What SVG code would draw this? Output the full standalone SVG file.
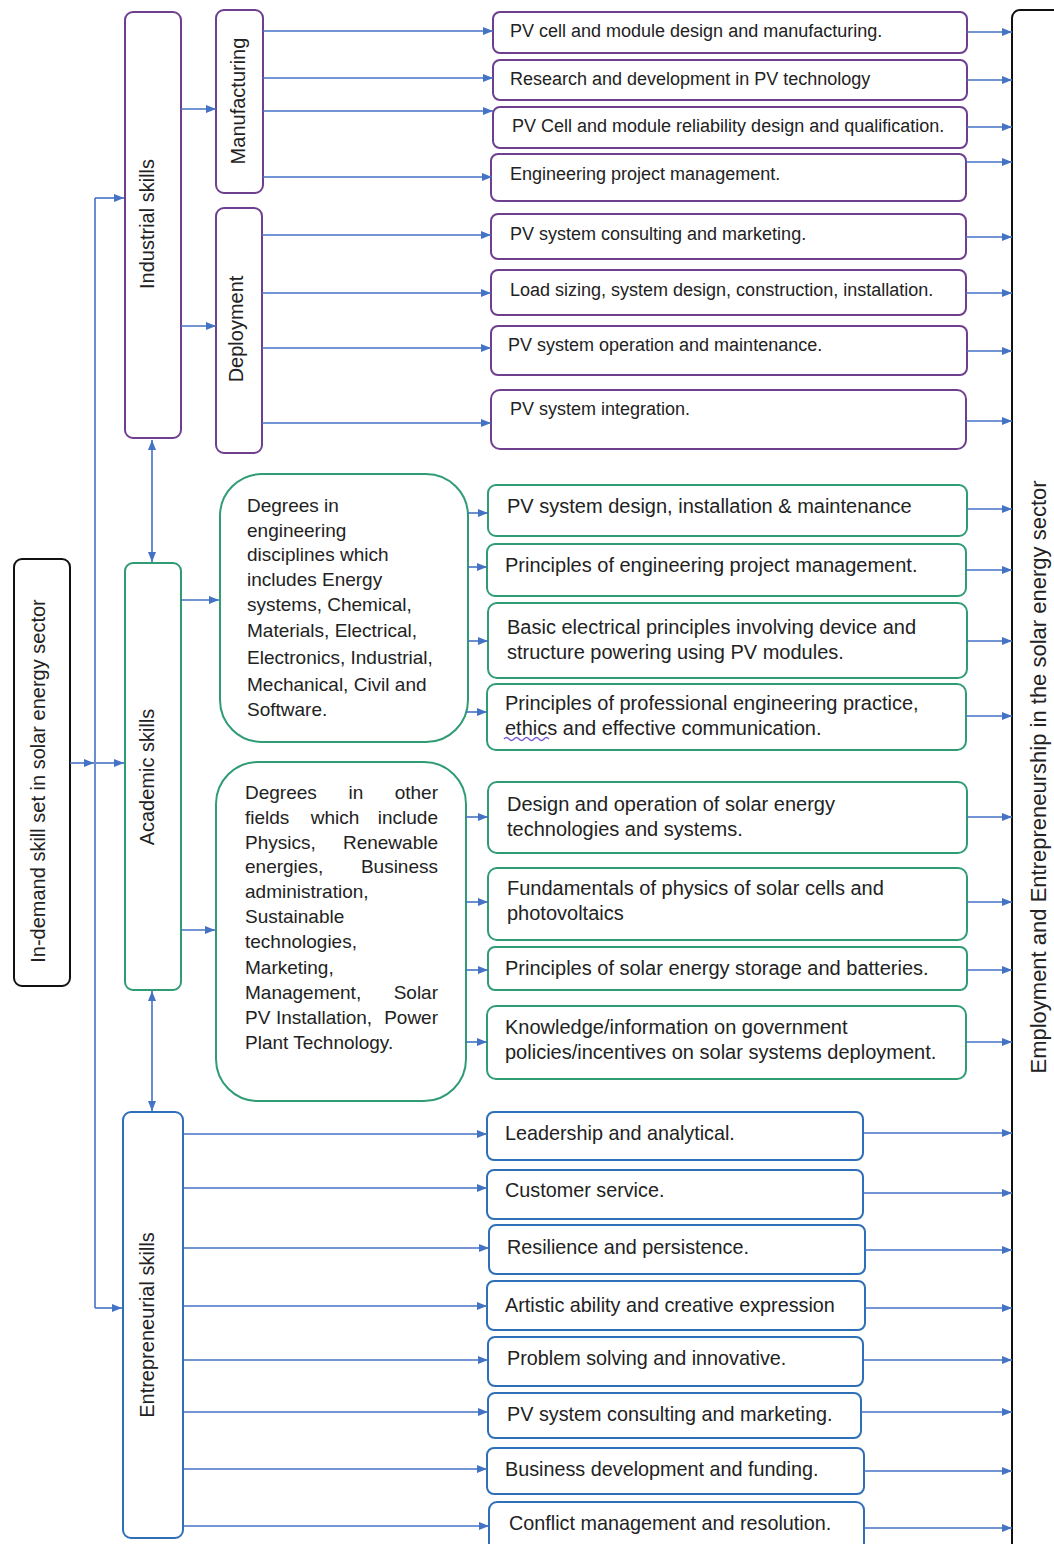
<svg xmlns="http://www.w3.org/2000/svg" width="1054" height="1544" viewBox="0 0 1054 1544">
<style>
text{font-family:"Liberation Sans",Arial,sans-serif;fill:#222}
.t{font-size:18px}
.tg{font-size:20px}
.tb{font-size:19.8px}
.big{font-size:19px}
.rot{font-size:20px;text-anchor:middle;dominant-baseline:central}
.pur{fill:#fff;stroke:#6e3f8e;stroke-width:2}
.grn{fill:#fff;stroke:#2f9c74;stroke-width:2}
.blu{fill:#fff;stroke:#2e6fb8;stroke-width:2}
.blk{fill:#fff;stroke:#111;stroke-width:2}
.c path{fill:none;stroke:#4472c4;stroke-width:1.6}
.a{marker-end:url(#ah)}
.d{marker-start:url(#ah);marker-end:url(#ah)}
</style>
<defs>
<marker id="ah" viewBox="0 0 10 10" refX="10" refY="5" markerWidth="10" markerHeight="10" markerUnits="userSpaceOnUse" orient="auto-start-reverse">
<path d="M0,1 L10,5 L0,9 z" fill="#4472c4"/>
</marker>
</defs>
<rect width="1054" height="1544" fill="#fff"/>

<g id="employment">
<rect class="blk" x="1012" y="10" width="90" height="1600" rx="8"/>
<text class="rot" style="font-size:22px" transform="translate(1038,777) rotate(-90)">Employment and Entrepreneurship in the solar energy sector</text>
</g>

<g id="indemand">
<rect class="blk" x="14" y="559" width="56" height="427" rx="8"/>
<text class="rot" transform="translate(38,781) rotate(-90)">In-demand skill set in solar energy sector</text>
</g>

<g id="industrial">
<rect class="pur" x="125" y="12" width="56" height="426" rx="8"/>
<text class="rot" transform="translate(147,224) rotate(-90)">Industrial skills</text>
</g>
<g id="academic">
<rect class="grn" x="125" y="563" width="56" height="427" rx="8"/>
<text class="rot" transform="translate(147,777) rotate(-90)">Academic skills</text>
</g>
<g id="entrepreneurial">
<rect class="blu" x="123" y="1112" width="60" height="426" rx="8"/>
<text class="rot" transform="translate(147,1325) rotate(-90)">Entrepreneurial skills</text>
</g>

<g id="manufacturing">
<rect class="pur" x="216" y="10" width="47" height="183" rx="8"/>
<text class="rot" transform="translate(238,101) rotate(-90)">Manufacturing</text>
</g>
<g id="deployment">
<rect class="pur" x="216" y="208" width="46" height="245" rx="8"/>
<text class="rot" transform="translate(236,329) rotate(-90)">Deployment</text>
</g>

<g id="p1"><rect class="pur" x="493" y="12" width="474" height="41" rx="7"/><text class="t" x="510" y="37">PV cell and module design and manufacturing.</text></g>
<g id="p2"><rect class="pur" x="493" y="60" width="474" height="40" rx="7"/><text class="t" x="510" y="85">Research and development in PV technology</text></g>
<g id="p3"><rect class="pur" x="493" y="107" width="474" height="41" rx="7"/><text class="t" x="512" y="132">PV Cell and module reliability design and qualification.</text></g>
<g id="p4"><rect class="pur" x="491" y="154" width="475" height="47" rx="7"/><text class="t" x="510" y="180">Engineering project management.</text></g>
<g id="p5"><rect class="pur" x="491" y="214" width="475" height="45" rx="7"/><text class="t" x="510" y="240">PV system consulting and marketing.</text></g>
<g id="p6"><rect class="pur" x="491" y="270" width="475" height="45" rx="7"/><text class="t" x="510" y="296">Load sizing, system design, construction, installation.</text></g>
<g id="p7"><rect class="pur" x="491" y="326" width="476" height="49" rx="7"/><text class="t" x="508" y="351">PV system operation and maintenance.</text></g>
<g id="p8"><rect class="pur" x="491" y="390" width="475" height="59" rx="9"/><text class="t" x="510" y="415">PV system integration.</text></g>

<g id="deg1">
<rect class="grn" x="220" y="474" width="248" height="268" rx="42"/>
<text class="big">
<tspan x="247" y="512">Degrees in</tspan>
<tspan x="247" y="537">engineering</tspan>
<tspan x="247" y="561">disciplines which</tspan>
<tspan x="247" y="586">includes Energy</tspan>
<tspan x="247" y="611">systems, Chemical,</tspan>
<tspan x="247" y="637">Materials, Electrical,</tspan>
<tspan x="247" y="664">Electronics, Industrial,</tspan>
<tspan x="247" y="691">Mechanical, Civil and</tspan>
<tspan x="247" y="716">Software.</tspan>
</text>
</g>

<g id="deg2">
<rect class="grn" x="216" y="762" width="250" height="339" rx="42"/>
<g class="big">
<text x="245" y="799">Degrees</text><text x="356" y="799" text-anchor="middle">in</text><text x="438" y="799" text-anchor="end">other</text>
<text x="245" y="824">fields</text><text x="335" y="824" text-anchor="middle">which</text><text x="438" y="824" text-anchor="end">include</text>
<text x="245" y="849">Physics,</text><text x="438" y="849" text-anchor="end">Renewable</text>
<text x="245" y="873">energies,</text><text x="438" y="873" text-anchor="end">Business</text>
<text x="245" y="898">administration,</text>
<text x="245" y="923">Sustainable</text>
<text x="245" y="948">technologies,</text>
<text x="245" y="974">Marketing,</text>
<text x="245" y="999">Management,</text><text x="438" y="999" text-anchor="end">Solar</text>
<text x="245" y="1024">PV</text><text x="276" y="1024">Installation,</text><text x="438" y="1024" text-anchor="end">Power</text>
<text x="245" y="1049">Plant Technology.</text>
</g>
</g>

<g id="g1"><rect class="grn" x="488" y="485" width="479" height="51" rx="8"/><text class="tg" x="507" y="513">PV system design, installation &amp; maintenance</text></g>
<g id="g2"><rect class="grn" x="487" y="544" width="479" height="52" rx="8"/><text class="tg" x="505" y="572">Principles of engineering project management.</text></g>
<g id="g3"><rect class="grn" x="488" y="603" width="479" height="75" rx="9"/><text class="tg"><tspan x="507" y="634">Basic electrical principles involving device and</tspan><tspan x="507" y="659">structure powering using PV modules.</tspan></text></g>
<g id="g4"><rect class="grn" x="487" y="684" width="479" height="66" rx="9"/><text class="tg"><tspan x="505" y="710">Principles of professional engineering practice,</tspan><tspan x="505" y="735">ethics and effective communication.</tspan></text>
<path d="M504,739 q2.5,-3 5,0 t5,0 t5,0 t5,0 t5,0 t5,0 t5,0 t5,0 t5,0" fill="none" stroke="#7a5ad0" stroke-width="1.3"/></g>
<g id="g5"><rect class="grn" x="488" y="782" width="479" height="71" rx="9"/><text class="tg"><tspan x="507" y="811">Design and operation of solar energy</tspan><tspan x="507" y="836">technologies and systems.</tspan></text></g>
<g id="g6"><rect class="grn" x="488" y="868" width="479" height="72" rx="9"/><text class="tg"><tspan x="507" y="895">Fundamentals of physics of solar cells and</tspan><tspan x="507" y="920">photovoltaics</tspan></text></g>
<g id="g7"><rect class="grn" x="488" y="947" width="479" height="43" rx="7"/><text class="tg" x="505" y="975">Principles of solar energy storage and batteries.</text></g>
<g id="g8"><rect class="grn" x="487" y="1006" width="479" height="73" rx="9"/><text class="tg"><tspan x="505" y="1034">Knowledge/information on government</tspan><tspan x="505" y="1059">policies/incentives on solar systems deployment.</tspan></text></g>

<g id="b1"><rect class="blu" x="487" y="1112" width="376" height="48" rx="7"/><text class="tb" x="505" y="1140">Leadership and analytical.</text></g>
<g id="b2"><rect class="blu" x="487" y="1170" width="376" height="49" rx="7"/><text class="tb" x="505" y="1197">Customer service.</text></g>
<g id="b3"><rect class="blu" x="489" y="1225" width="376" height="49" rx="7"/><text class="tb" x="507" y="1254">Resilience and persistence.</text></g>
<g id="b4"><rect class="blu" x="487" y="1281" width="378" height="49" rx="7"/><text class="tb" x="505" y="1312">Artistic ability and creative expression</text></g>
<g id="b5"><rect class="blu" x="488" y="1337" width="375" height="49" rx="7"/><text class="tb" x="507" y="1365">Problem solving and innovative.</text></g>
<g id="b6"><rect class="blu" x="488" y="1393" width="373" height="45" rx="7"/><text class="tb" x="507" y="1421">PV system consulting and marketing.</text></g>
<g id="b7"><rect class="blu" x="487" y="1448" width="377" height="46" rx="7"/><text class="tb" x="505" y="1476">Business development and funding.</text></g>
<g id="b8"><rect class="blu" x="489" y="1502" width="375" height="60" rx="8"/><text class="tb" x="509" y="1530">Conflict management and resolution.</text></g>

<g id="connectors" class="c">
<path d="M95,198 V1308"/>
<path class="a" d="M70,763 H94"/>
<path class="a" d="M96,763 H124"/>
<path class="a" d="M95,198 H124"/>
<path class="a" d="M95,1308 H122"/>
<path class="d" d="M152,440 V562"/>
<path class="d" d="M152,991 V1111"/>
<path class="a" d="M181,109 H216"/>
<path class="a" d="M181,326 H216"/>
<path class="a" d="M263,31 H493"/>
<path class="a" d="M263,78 H493"/>
<path class="a" d="M263,111 H493"/>
<path class="a" d="M263,177 H492"/>
<path class="a" d="M262,235 H491"/>
<path class="a" d="M262,293 H491"/>
<path class="a" d="M262,348 H491"/>
<path class="a" d="M262,423 H491"/>
<path class="a" d="M967,32 H1012"/>
<path class="a" d="M967,80 H1012"/>
<path class="a" d="M967,127 H1012"/>
<path class="a" d="M966,162 H1012"/>
<path class="a" d="M966,237 H1012"/>
<path class="a" d="M966,293 H1012"/>
<path class="a" d="M967,351 H1012"/>
<path class="a" d="M966,421 H1012"/>
<path class="a" d="M181,600 H219"/>
<path class="a" d="M181,930 H215"/>
<path class="a" d="M468,513 H488"/>
<path class="a" d="M468,567 H487"/>
<path class="a" d="M468,641 H488"/>
<path class="a" d="M466,712 H487"/>
<path class="a" d="M466,817 H488"/>
<path class="a" d="M466,902 H488"/>
<path class="a" d="M466,970 H488"/>
<path class="a" d="M466,1042 H487"/>
<path class="a" d="M967,509 H1012"/>
<path class="a" d="M966,570 H1012"/>
<path class="a" d="M967,641 H1012"/>
<path class="a" d="M966,716 H1012"/>
<path class="a" d="M967,817 H1012"/>
<path class="a" d="M967,902 H1012"/>
<path class="a" d="M967,970 H1012"/>
<path class="a" d="M966,1042 H1012"/>
<path class="a" d="M183,1134 H487"/>
<path class="a" d="M183,1188 H487"/>
<path class="a" d="M183,1248 H489"/>
<path class="a" d="M183,1306 H487"/>
<path class="a" d="M183,1360 H488"/>
<path class="a" d="M183,1412 H488"/>
<path class="a" d="M183,1469 H487"/>
<path class="a" d="M183,1526 H489"/>
<path class="a" d="M863,1133 H1012"/>
<path class="a" d="M863,1193 H1012"/>
<path class="a" d="M865,1250 H1012"/>
<path class="a" d="M865,1308 H1012"/>
<path class="a" d="M863,1360 H1012"/>
<path class="a" d="M861,1412 H1012"/>
<path class="a" d="M864,1471 H1012"/>
<path class="a" d="M864,1528 H1012"/>
</g>
</svg>
